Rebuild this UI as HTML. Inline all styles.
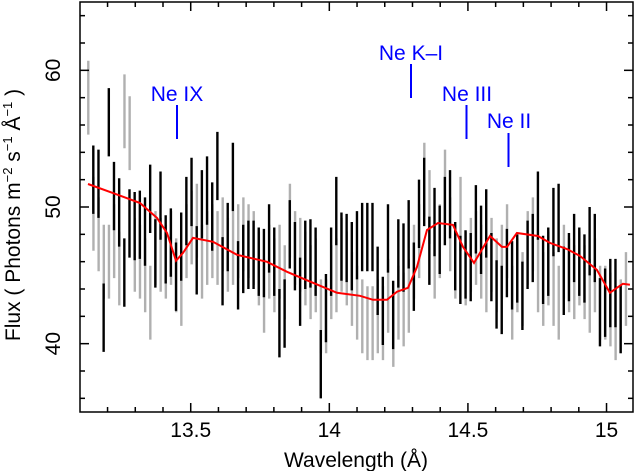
<!DOCTYPE html>
<html><head><meta charset="utf-8"><style>
body{margin:0;background:#fff}
svg{display:block;font-family:"Liberation Sans",sans-serif}
</style></head><body>
<svg id="chart" width="635" height="471" viewBox="0 0 635 471">
<g id="gray"></g>
<g id="black"></g>
<path id="model" fill="none" stroke="#f00" stroke-width="2"/>
<g id="axes"></g>
<g fill="#00f" font-size="21" text-anchor="middle">
<text x="177" y="101">Ne IX</text>
<line x1="177" y1="105" x2="177" y2="139" stroke="#00f" stroke-width="2"/>
<text x="411" y="60">Ne K–I</text>
<line x1="411" y1="64" x2="411" y2="98" stroke="#00f" stroke-width="2"/>
<text x="467" y="101">Ne III</text>
<line x1="466.5" y1="105" x2="466.5" y2="139" stroke="#00f" stroke-width="2"/>
<text x="509" y="128">Ne II</text>
<line x1="508.5" y1="133" x2="508.5" y2="167" stroke="#00f" stroke-width="2"/>
</g>
<text x="356" y="467" font-size="21" text-anchor="middle">Wavelength (Å)</text>
<text transform="translate(20,215) rotate(-90)" font-size="21" text-anchor="middle">Flux ( Photons m<tspan font-size="13" dy="-8">−2</tspan><tspan dy="8"> s</tspan><tspan font-size="13" dy="-8">−1</tspan><tspan dy="8"> Å</tspan><tspan font-size="13" dy="-8">−1</tspan><tspan dy="8"> )</tspan></text>
</svg>
<script>
const blackStart = 13.1486, grayStart = 13.1305, step = 0.01865;
const blackVals = [52.0,51.7,41.9,56.2,50.8,49.6,45.2,48.8,48.6,48.7,48.2,50.6,46.6,50.1,46.9,47.4,44.9,47.1,49.7,51.1,46.1,50.2,51.2,49.3,53.0,45.3,47.8,52.2,45.0,46.2,46.5,46.5,46.0,45.9,47.7,46.0,41.5,42.2,48.0,46.4,43.8,46.5,46.6,46.0,38.5,42.6,46.0,49.7,47.1,47.0,46.4,47.2,47.8,47.8,47.8,44.6,42.4,47.7,42.1,46.6,46.3,48.0,44.9,49.5,51.1,46.8,48.9,47.6,49.7,50.2,46.4,45.4,45.8,45.6,49.1,47.6,48.8,45.6,43.6,43.2,45.9,45.0,45.5,43.5,46.5,47.0,50.1,45.4,46.0,48.9,49.2,44.6,45.6,47.0,46.0,45.5,47.5,47.0,42.3,43.0,43.7,43.7,41.8];
const grayVals = [58.0,49.5,48.0,46.0,46.0,47.5,45.5,57.0,55.4,46.5,46.0,45.0,43.0,47.0,46.5,46.0,47.0,45.0,44.0,47.5,48.5,49.0,46.0,47.0,47.5,47.0,48.0,46.5,47.0,47.5,48.0,47.5,47.0,45.5,43.5,46.0,45.0,46.0,44.5,49.0,47.0,46.5,45.5,44.5,45.0,42.0,42.0,44.5,45.0,46.5,45.5,44.0,43.0,42.0,41.5,41.5,42.0,41.5,43.5,41.0,43.0,42.5,43.5,46.0,47.5,52.0,50.0,46.0,47.5,51.5,48.0,46.0,49.5,45.5,46.5,47.0,46.0,45.0,46.5,45.0,46.0,47.5,43.0,45.0,44.0,47.0,48.0,45.0,44.0,45.5,44.0,43.0,46.0,45.0,44.5,45.5,44.5,43.5,45.0,43.0,43.0,42.5,41.5,42.0,44.0];
const blackErr = [2.5];
const grayErr = [2.7];
const modelWave = [13.1295,13.2196,13.3171,13.3784,13.4145,13.4469,13.4722,13.5082,13.5804,13.667,13.7752,13.8474,13.9411,14.0277,14.1107,14.1576,14.2081,14.2442,14.2839,14.3163,14.3524,14.3921,14.4462,14.4823,14.522,14.5797,14.623,14.641,14.6766,14.7524,14.7957,14.857,14.9039,14.9652,15.0121,15.0374,15.059,15.0843];
const modelFlux = [51.68,51.02,50.29,49.2,48.1,46.06,46.64,47.74,47.45,46.5,45.99,45.26,44.45,43.72,43.5,43.21,43.21,43.8,44.09,45.62,48.32,48.83,48.69,47.08,45.91,47.88,47.08,47.08,48.1,47.88,47.37,46.93,46.42,45.4,43.72,44.09,44.38,44.31];
const xTicks = [13.5,14,14.5,15];
const xTickLabels = ["13.5","14","14.5","15"];
const yTicks = [40,50,60];
const yTickLabels = ["40","50","60"];
const X0=80,X1=633,Y0=2,Y1=412, LMIN=13.1006, LMAX=15.0955, FMIN=35, FMAX=65;
const xs = l => X0 + (l-LMIN)/(LMAX-LMIN)*(X1-X0);
const ys = f => Y1 - (f-FMIN)/(FMAX-FMIN)*(Y1-Y0);
const NS="http://www.w3.org/2000/svg";
function mk(tag,attrs,parent){const e=document.createElementNS(NS,tag);for(const k in attrs)e.setAttribute(k,attrs[k]);parent.appendChild(e);return e;}
function drawBars(g,vals,start,err,color,name){
  vals.forEach((v,i)=>{
    const x=xs(start+i*step);
    if(x<X0+1||x>X1-1)return;
    const e=mk('line',{x1:x,x2:x,y1:ys(v+err[0]),y2:ys(v-err[0]),stroke:color,'stroke-width':2.4},g);
    
    
  });
}
drawBars(document.getElementById('gray'),grayVals,grayStart,grayErr,'#b0b0b0','gray-error-bar');
drawBars(document.getElementById('black'),blackVals,blackStart,blackErr,'#000','black-error-bar');
document.getElementById('model').setAttribute('d',modelWave.map((l,i)=>(i?'L':'M')+xs(l).toFixed(1)+','+ys(modelFlux[i]).toFixed(1)).join(''));
const ax=document.getElementById('axes');
const fr=mk('rect',{x:X0,y:Y0,width:X1-X0,height:Y1-Y0,fill:'none',stroke:'#000','stroke-width':1.5},ax);


for(let k=131;k<=151;k++){const l=k/10;const x=xs(l);if(x<X0+1||x>X1-1)continue;const major=k%5===0;const len=major?9:5;
  mk('line',{x1:x,x2:x,y1:Y1,y2:Y1-len,stroke:'#000','stroke-width':1.5},ax);
  mk('line',{x1:x,x2:x,y1:Y0,y2:Y0+len,stroke:'#000','stroke-width':1.5},ax);}
for(let f=36;f<=64;f+=2){const y=ys(f);const major=f%10===0;const len=major?9:5;
  mk('line',{x1:X0,x2:X0+len,y1:y,y2:y,stroke:'#000','stroke-width':1.5},ax);
  mk('line',{x1:X1,x2:X1-len,y1:y,y2:y,stroke:'#000','stroke-width':1.5},ax);}
xTicks.forEach((l,i)=>{const t=mk('text',{x:xs(l),y:437,'font-size':21,'text-anchor':'middle'},ax);t.textContent=xTickLabels[i];
  
  });
yTicks.forEach((f,i)=>{const t=mk('text',{transform:'translate(60,'+ys(f)+') rotate(-90)','font-size':21,'text-anchor':'middle'},ax);t.textContent=yTickLabels[i];
  
  });
</script>
</body></html>
